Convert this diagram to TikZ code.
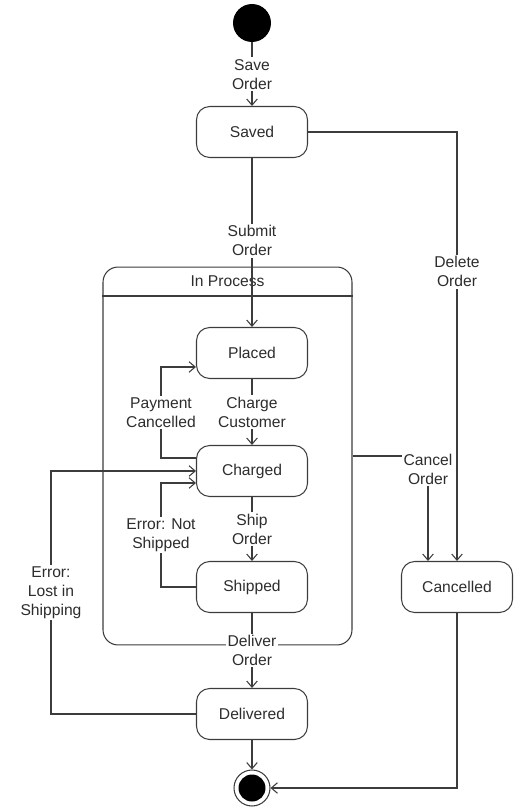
\documentclass[tikz,border=0pt]{standalone}
\usepackage{fontspec}
\setmainfont{Liberation Sans}
\usepackage{xcolor}
\definecolor{umlline}{RGB}{60, 60, 60}
\definecolor{umltext}{RGB}{45, 45, 45}
\usetikzlibrary{arrows.meta, positioning}

\tikzset{
  state/.style={draw=umlline, line width=0.6pt, rounded corners=7.5pt,
    minimum width=2.22cm, minimum height=1.02cm, inner sep=0pt},
  trans/.style={draw=umlline, line width=0.6pt,
    -{Straight Barb[length=3.5pt, width=6pt]}},
  lbl/.style={fill=white, inner sep=1pt, align=center, text=umltext},
}

\begin{document}
\begin{tikzpicture}[x=0.02cm, y=-0.02cm,
    font=\fontsize{8.9}{10.8}\selectfont, text=umltext]
  \useasboundingbox (0,0) rectangle (518,808);

  % composite state
  \node[draw=umlline, line width=0.6pt, rounded corners=0.3cm,
        minimum width=4.98cm, minimum height=7.56cm] (inproc) at (227.5,456) {};
  \draw[umlline, line width=0.6pt] (inproc.west |- 0,296) -- (inproc.east |- 0,296);
  \node (inproctitle) at (inproc.north |- 0,281) {In Process};

  % states
  \node[circle, fill=black, minimum size=0.76cm, inner sep=0pt] (start) at (252,23) {};
  \node[state] (saved) at (252,132) {Saved};
  \node[state] (placed) at (252,353) {Placed};
  \node[state] (charged) at (252,471) {Charged};
  \node[state] (shipped) at (252,587) {Shipped};
  \node[state] (delivered) at (252,714) {Delivered};
  \node[state] (cancelled) at (457,587) {Cancelled};
  \node[circle, draw=umlline, line width=0.6pt, minimum size=0.72cm, inner sep=0pt] (end) at (252,788) {};
  \fill[black] (end.center) circle (0.27cm);

  % transitions
  \draw[trans] (start) -- node[lbl]{Save\\Order} (saved);
  \draw[trans] (saved) -- node[lbl, pos=0.49]{Submit\\Order} (placed);
  \draw[trans] (saved) -| node[lbl, pos=0.663]{Delete\\Order} (cancelled);
  \draw[trans] (placed) -- node[lbl]{Charge\\Customer} (charged);
  \draw[trans] (charged) -- node[lbl]{Ship\\Order} (shipped);
  \draw[trans] (shipped) -- node[lbl]{Deliver\\Order} (delivered);
  \draw[trans] (delivered) -- (end);
  \draw[trans] (cancelled) |- (end);

  % back transitions
  \draw[trans] ([yshift=0.26cm]charged.west) -- ++(-35,0)
    |- node[lbl, pos=0.25]{Payment\\Cancelled} ([yshift=-0.28cm]placed.west);
  \draw[trans] (shipped.west) -- ++(-35,0)
    |- node[lbl, pos=0.25]{Error: Not\\Shipped} ([yshift=-0.24cm]charged.west);
  \draw[trans] (delivered.west) -- ++(-145,0)
    |- node[lbl, pos=0.25]{Error:\\Lost in\\Shipping} (charged.west);
  \draw[trans] (inproc.east) -| node[lbl, pos=0.5, yshift=-0.26cm]{Cancel\\Order}
    ([xshift=-0.58cm]cancelled.north);
\end{tikzpicture}
\end{document}
